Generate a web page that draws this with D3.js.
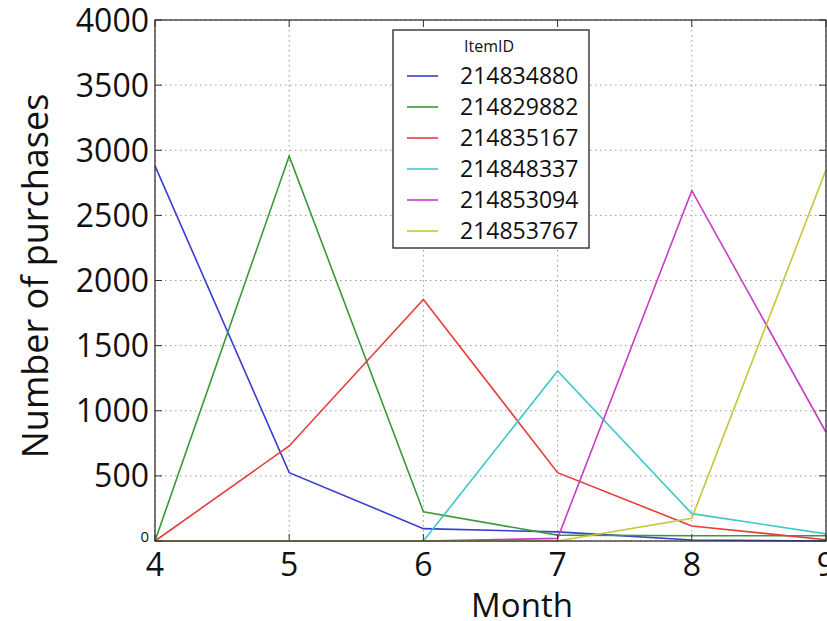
<!DOCTYPE html>
<html><head><meta charset="utf-8">
<script src="https://cdn.jsdelivr.net/npm/d3@7"></script>
<style>
body{margin:0;background:#fff;}
svg{display:block;font-family:"Open Sans","Noto Sans",sans-serif;}
</style></head>
<body><svg id="c" width="827" height="621"></svg>
<script>
const months = [4, 5, 6, 7, 8, 9];
const itemIds = ["214834880", "214829882", "214835167", "214848337", "214853094", "214853767"];
const colors = ["#3b3bd6", "#3a983a", "#e63c3c", "#3cc8c8", "#c83cc8", "#c6c636"];
const s214834880 = [2880, 525, 95, 70, 8, 0];
const s214829882 = [0, 2955, 225, 45, 40, 40];
const s214835167 = [0, 730, 1855, 525, 115, 10];
const s214848337 = [0, 0, 0, 1305, 210, 55];
const s214853094 = [0, 0, 0, 20, 2690, 835];
const s214853767 = [0, 0, 0, 0, 175, 2850];
const seriesValues = [s214834880, s214829882, s214835167, s214848337, s214853094, s214853767];
const yTicks = [0, 500, 1000, 1500, 2000, 2500, 3000, 3500, 4000];
const xTicks = [4, 5, 6, 7, 8, 9];

const svg = d3.select("#c");
const L = 155, R = 826, T = 20, B = 541;
const x = d3.scaleLinear().domain([4, 9]).range([L, R]);
const y = d3.scaleLinear().domain([0, 4000]).range([B, T]);

// grid
const g = svg.append("g");
g.selectAll(".gx").data(xTicks).enter().append("line")
  .attr("x1", d => x(d)).attr("x2", d => x(d)).attr("y1", T).attr("y2", B)
  .attr("stroke", "#9a9a9a").attr("stroke-width", 1).attr("stroke-dasharray", "1.5,3.5");
g.selectAll(".gy").data(yTicks).enter().append("line")
  .attr("x1", L).attr("x2", R).attr("y1", d => y(d)).attr("y2", d => y(d))
  .attr("stroke", "#9a9a9a").attr("stroke-width", 1).attr("stroke-dasharray", "1.5,3.5");

// lines
const line = d3.line().x((d, i) => x(months[i])).y(d => y(d));
seriesValues.forEach((vals, k) => {
  svg.append("path").datum(vals).attr("d", line)
    .attr("fill", "none").attr("stroke", colors[k]).attr("stroke-width", 1.6)
    .attr("stroke-linejoin", "miter");
});

// frame
svg.append("rect").attr("x", L).attr("y", T).attr("width", R - L).attr("height", B - T)
  .attr("fill", "none").attr("stroke", "#333").attr("stroke-width", 1.3);

// inward ticks
const tk = svg.append("g").attr("stroke", "#333").attr("stroke-width", 1);
xTicks.forEach(d => {
  tk.append("line").attr("x1", x(d)).attr("x2", x(d)).attr("y1", B).attr("y2", B - 7);
  tk.append("line").attr("x1", x(d)).attr("x2", x(d)).attr("y1", T).attr("y2", T + 7);
});
yTicks.forEach(d => {
  tk.append("line").attr("x1", L).attr("x2", L + 7).attr("y1", y(d)).attr("y2", y(d));
  tk.append("line").attr("x1", R).attr("x2", R - 7).attr("y1", y(d)).attr("y2", y(d));
});

// y tick labels
svg.append("g").selectAll("text").data(yTicks).enter().append("text")
  .attr("x", 149).attr("y", d => y(d))
  .attr("dy", d => d === 0 ? "0.05em" : "0.36em")
  .attr("text-anchor", "end")
  .attr("font-size", d => d === 0 ? 15 : 32)
  .attr("fill", "#111")
  .text(d => d);

// x tick labels
svg.append("g").selectAll("text").data(xTicks).enter().append("text")
  .attr("x", d => x(d)).attr("y", 576)
  .attr("text-anchor", "middle").attr("font-size", 32).attr("fill", "#111")
  .text(d => d);

// axis titles
svg.append("text").attr("x", 522).attr("y", 617)
  .attr("text-anchor", "middle").attr("font-size", 33).attr("fill", "#111").text("Month");
svg.append("text").attr("transform", "translate(48,276) rotate(-90)")
  .attr("text-anchor", "middle").attr("font-size", 36).attr("fill", "#111").text("Number of purchases");

// legend
const lg = svg.append("g");
lg.append("rect").attr("x", 393).attr("y", 30).attr("width", 196).attr("height", 218)
  .attr("fill", "#fff").attr("stroke", "#222").attr("stroke-width", 1.3);
lg.append("text").attr("x", 489).attr("y", 52).attr("text-anchor", "middle")
  .attr("font-size", 16).attr("fill", "#111").text("ItemID");
itemIds.forEach((id, i) => {
  const yy = 76 + i * 31;
  lg.append("line").attr("x1", 407).attr("x2", 438).attr("y1", yy).attr("y2", yy)
    .attr("stroke", colors[i]).attr("stroke-width", 1.6);
  lg.append("text").attr("x", 460).attr("y", yy).attr("dy", "0.36em")
    .attr("font-size", 23).attr("fill", "#111").text(id);
});
</script></body></html>
